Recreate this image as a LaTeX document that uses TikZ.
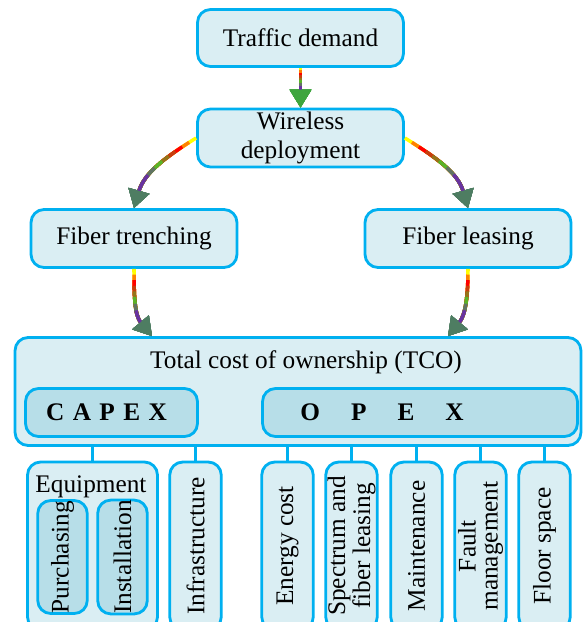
\documentclass[tikz,border=0pt]{standalone}
\usepackage{fontspec}
\setmainfont{Liberation Serif}
\usetikzlibrary{
    positioning,
    arrows.meta,
    calc
}
\definecolor{boxline}{RGB}{0,176,240}
\definecolor{boxfill}{RGB}{218,238,243}
\definecolor{partfill}{RGB}{183,222,232}
\definecolor{flowyellow}{RGB}{255,255,0}
\definecolor{flowred}{RGB}{255,0,0}
\definecolor{flowgreen}{RGB}{90,180,40}
\definecolor{flowpurple}{RGB}{105,50,160}
\definecolor{headgreen}{RGB}{78,125,98}
\definecolor{headbright}{RGB}{62,165,62}
\newcommand{\boxfont}{\fontsize{14.4}{16}\selectfont}
\newcommand{\itemfont}{\fontsize{14.4}{12.5}\selectfont}
\tikzset{
  box/.style = {
      draw=boxline,
      line width=1.6pt,
      fill=boxfill,
      rounded corners=0.26cm,
      align=center,
      inner sep=0pt,
      font=\boxfont
  },
  topbox/.style = {
      box,
      minimum width=4.12cm,
      minimum height=1.14cm
  },
  part/.style = {
      box,
      fill=partfill,
      font=\boxfont\bfseries,
      minimum height=0.96cm
  },
  item/.style = {
      box,
      rotate=90,
      font=\itemfont,
      minimum width=3.36cm,
      minimum height=1.03cm
  },
  subitem/.style = {
      item,
      fill=partfill,
      minimum width=2.26cm,
      minimum height=0.99cm
  },
  link/.style = {
      draw=boxline,
      line width=1.6pt
  },
  flow/.style = {
      line width=2pt,
      -{Triangle[length=0.36cm, width=0.42cm, color=#1]}
  },
  flow/.default = headgreen
}
% [head colour] path, visible length in pt
\newcommand{\rainbowflow}[3][headgreen]{%
  \draw[flow=#1, draw=flowyellow] #2;
  \foreach \f/\c in {0.1/flowyellow!50!flowred, 0.2/flowred, 0.3/flowred!65!flowgreen,
                     0.4/flowred!35!flowgreen, 0.5/flowgreen, 0.62/flowgreen!50!flowpurple,
                     0.74/flowpurple}{
    \pgfmathsetlengthmacro\flowgap{\f*#3pt}
    \draw[flow=#1, draw=\c, dash pattern=on 0pt off \flowgap on 600pt] #2;
  }
}

\begin{document}
\begin{tikzpicture}[x=0.02cm, y=-0.02cm]
    \clip (0,0) rectangle (586,622);
    % Demand and deployment
    \node[topbox] (td) at (300.5,38) {Traffic demand};
    \node[topbox, minimum height=1.16cm] (wd) at (300.5,138) {Wireless\\deployment};
    \node[topbox, minimum height=1.16cm] (ft) at (134,238.5) {Fiber trenching};
    \node[topbox, minimum height=1.16cm] (fl) at (468,238.5) {Fiber leasing};
    % TCO
    \node[box, minimum width=11.32cm, minimum height=2.16cm] (tco) at (298,391.5) {};
    \node[anchor=base, font=\boxfont] (tcotitle) at (306,368) {Total cost of ownership (TCO)};
    \node[part, minimum width=3.44cm] (capex) at (111.5,412.5) {C\,\,A\,\,P\,\,E\,\,X\hspace*{0.2cm}};
    \node[part, minimum width=6.3cm] (opex) at (420,412.5)
        {O\hspace{0.62cm}P\hspace{0.62cm}E\hspace{0.62cm}X\hspace*{1.52cm}};
    % Cost items
    \node[box, minimum width=2.6cm, minimum height=3.36cm] (eq) at (92.5,546) {};
    \node[anchor=base, font=\boxfont] (eqtitle) at (91,492) {Equipment};
    \node[subitem] (buy) at (62.5,557) {Purchasing};
    \node[subitem] (inst) at (122.5,557) {Installation};
    \node[item] (infra) at (195.5,546) {Infrastructure};
    \node[item] (energy) at (287.5,546) {Energy cost};
    \node[item] (spec) at (351.5,546) {Spectrum and\\fiber leasing};
    \node[item] (maint) at (416.5,546) {Maintenance};
    \node[item] (fault) at (480.5,546) {Fault\\management};
    \node[item] (floor) at (544.5,546) {Floor space};
    % Links
    \draw[link] (eq.north |- tco.south) -- (eq.north);
    \foreach \n in {infra, energy, spec, maint, fault, floor}
        \draw[link] (\n.east |- tco.south) -- (\n.east);
    % Flows
    \coordinate (capin) at ([xshift=-2.92cm]tco.north);
    \coordinate (opin) at ([xshift=3cm]tco.north);
    \rainbowflow[headbright]{(td) -- (wd)}{14}
    \rainbowflow{(wd.west) to[out=212, in=74] (ft.north)}{47}
    \rainbowflow{(wd.east) to[out=-32, in=106] (fl.north)}{47}
    \rainbowflow{(ft.south) to[out=-90, in=130] (capin)}{32}
    \rainbowflow{(fl.south) to[out=-90, in=50] (opin)}{32}
\end{tikzpicture}
\end{document}
